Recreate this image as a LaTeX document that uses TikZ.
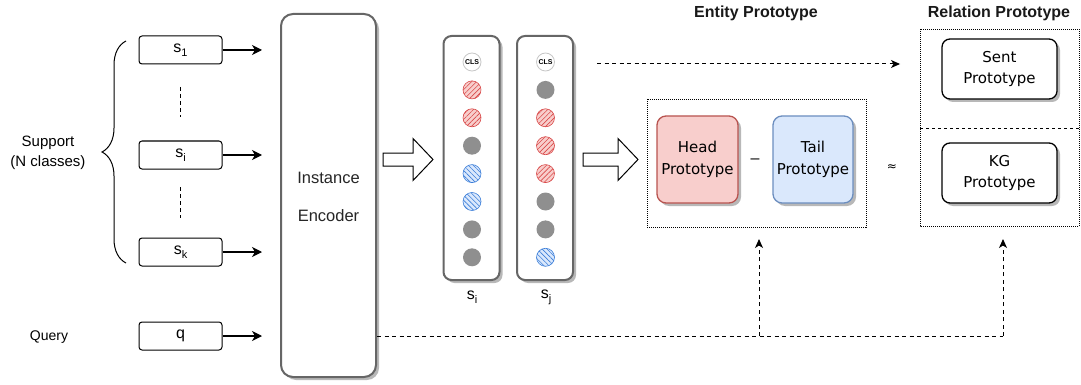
\documentclass[tikz,border=0pt]{standalone}
\usepackage{fontspec}
\setmainfont{Liberation Sans}
\newfontfamily\hdrfont{DejaVu Sans}
\newfontfamily\protofont{DejaVu Sans}
\usetikzlibrary{shadows,patterns.meta,decorations.pathreplacing,arrows.meta}
\definecolor{encgray}{HTML}{666666}
\definecolor{dotgray}{HTML}{8F8F8F}
\definecolor{redfill}{HTML}{F8CECC}
\definecolor{redline}{HTML}{B85450}
\definecolor{reddot}{HTML}{D94A4A}
\definecolor{bluefill}{HTML}{DAE8FC}
\definecolor{blueline}{HTML}{6C8EBF}
\definecolor{bluedot}{HTML}{3D7FD9}
\newcommand{\sbs}[1]{\raisebox{-4pt}{\fontsize{11}{11}\selectfont #1}}
\begin{document}
\begin{tikzpicture}[x=1pt,y=-1pt,
  shad/.style={drop shadow={shadow xshift=3pt,shadow yshift=-3pt,fill=black!28,opacity=1}},
  inbox/.style={draw=black,line width=1pt,rounded corners=3pt,minimum width=83pt,minimum height=28pt,inner sep=0pt,font=\fontsize{16}{16}\selectfont},
  encbox/.style={draw=encgray,line width=2pt,rounded corners=12pt,fill=white,shad,minimum width=95pt,minimum height=363pt,inner sep=0pt},
  colbox/.style={draw=encgray,line width=2pt,rounded corners=8pt,fill=white,shad,minimum width=56pt,minimum height=244pt,inner sep=0pt},
  dot/.style={circle,minimum size=18pt,inner sep=0pt},
  gdot/.style={dot,fill=dotgray},
  rdot/.style={dot,draw=reddot,line width=0.6pt,preaction={fill=redfill},pattern={Lines[angle=45,distance=3.5pt,line width=0.6pt]},pattern color=reddot},
  bdot/.style={dot,draw=bluedot,line width=0.6pt,preaction={fill=bluefill},pattern={Lines[angle=-45,distance=3.5pt,line width=0.6pt]},pattern color=bluedot},
  clsdot/.style={dot,draw=black!22,line width=0.8pt,fill=white,font=\fontsize{7}{7}\selectfont\bfseries},
  proto/.style={rounded corners=9pt,line width=1.3pt,shad,align=center,inner sep=0pt,font=\protofont\fontsize{15}{21.5}\selectfont},
  dotbox/.style={draw=black,line width=0.8pt,dash pattern=on 1pt off 1pt},
  arr/.style={line width=1.3pt,-{Stealth[length=10pt,width=10pt,inset=3pt]}},
  dasharr/.style={line width=1pt,dash pattern=on 4pt off 3.5pt,-{Stealth[length=9pt,width=8pt,inset=2.5pt]}},
  dashln/.style={line width=1pt,dash pattern=on 4pt off 3.5pt},
  hollowarrow/.pic={\draw[line width=1pt,fill=white] (0,-6.5) -- (#1-20,-6.5) -- (#1-20,-21) -- (#1,0) -- (#1-20,21) -- (#1-20,6.5) -- (0,6.5) -- cycle;},
  hdr/.style={font=\bfseries\fontsize{16}{16}\selectfont,text=black!90}
]
\useasboundingbox (0,0) rectangle (1081,385);

% left texts
\node[align=center,font=\fontsize{15}{20}\selectfont] (sup) at (48,153) {Support\\(N classes)};
\node[font=\fontsize{14}{14}\selectfont] (qry) at (49,337) {Query};
\draw[line width=1pt,decorate,decoration={brace,amplitude=24pt,aspect=0.5}] (126,263) -- (126,41);

% inputs
\node[inbox] (s1) at (180.5,50) {s\sbs{1}};
\node[inbox] (si) at (180.5,155) {s\sbs{i}};
\node[inbox] (sk) at (180.5,252) {s\sbs{k}};
\node[inbox] (q) at (180.5,336) {q};
\coordinate (d1a) at (180,87); \coordinate (d1b) at (180,117);
\coordinate (d2a) at (180,187); \coordinate (d2b) at (180,218);
\draw[line width=1pt,dash pattern=on 4pt off 3pt] (d1a) -- (d1b);
\draw[line width=1pt,dash pattern=on 4pt off 3pt] (d2a) -- (d2b);

% encoder
\node[encbox] (enc) at (328.5,195.5) {};
\node[align=center,font=\fontsize{16.5}{38}\selectfont,text=black!85] (enctxt) at (328.5,197) {Instance\\Encoder};

\foreach \n in {s1,si,sk,q} \draw[arr,shorten >=18pt] (\n.east) -- (\n.east -| enc.west);

% columns
\node[colbox] (ci) at (471.5,158) {};
\node[colbox] (cj) at (545,158) {};
\node[clsdot] (i0) at (472,62) {CLS};
\node[clsdot] (j0) at (545.5,62) {CLS};
\foreach \c [count=\k] in {rdot,rdot,gdot,bdot,bdot,gdot,gdot}
  \node[\c] (i\k) at (472,62+27.9*\k) {};
\foreach \c [count=\k] in {gdot,rdot,rdot,rdot,gdot,gdot,bdot}
  \node[\c] (j\k) at (545.5,62+27.9*\k) {};
\node[font=\fontsize{16}{16}\selectfont] (li) at (472,297) {s\sbs{i}};
\node[font=\fontsize{16}{16}\selectfont] (lj) at (546,297) {s\sbs{j}};

% hollow arrows
\pic at (383,159.5) {hollowarrow=50};
\pic at (583,159.5) {hollowarrow=55};

% entity prototype
\node[hdr] (eh) at (756,13) {Entity Prototype};
\node[hdr] (rh) at (999,13) {Relation Prototype};
\draw[dotbox] (647,99) rectangle (866,227);
\node[proto,draw=redline,fill=redfill,minimum width=81pt,minimum height=87pt] (head) at (697.5,159.5) {Head\\Prototype};
\node[proto,draw=blueline,fill=bluefill,minimum width=80pt,minimum height=87pt] (tail) at (813,159.5) {Tail\\Prototype};
\node[font=\fontsize{16}{16}\selectfont] (minus) at (755,161) {--};
\node[font=\hdrfont\fontsize{12}{12}\selectfont] (approx) at (892,168) {≈};

% relation prototype
\draw[dotbox] (920,29) rectangle (1079,226);
\draw[line width=0.9pt,dash pattern=on 3pt off 3pt] (920,128) -- (1079,128);
\node[proto,draw=black,fill=white,minimum width=115pt,minimum height=60pt,rounded corners=8pt] (sent) at (999.5,69) {Sent\\Prototype};
\node[proto,draw=black,fill=white,minimum width=115pt,minimum height=60pt,rounded corners=8pt] (kg) at (999.5,173) {KG\\Prototype};

% dashed connectors
\coordinate (ta) at (597,64);
\coordinate (tb) at (900,64);
\draw[dasharr] (ta) -- (tb);
\coordinate (b1) at (759,336);
\coordinate (b2) at (1003,336);
\coordinate (u1) at (759,239);
\coordinate (u2) at (1003,239);
\draw[dashln] (q -| enc.east) -- (b2);
\draw[dasharr] (b1) -- (u1);
\draw[dasharr] (b2) -- (u2);
\end{tikzpicture}
\end{document}
